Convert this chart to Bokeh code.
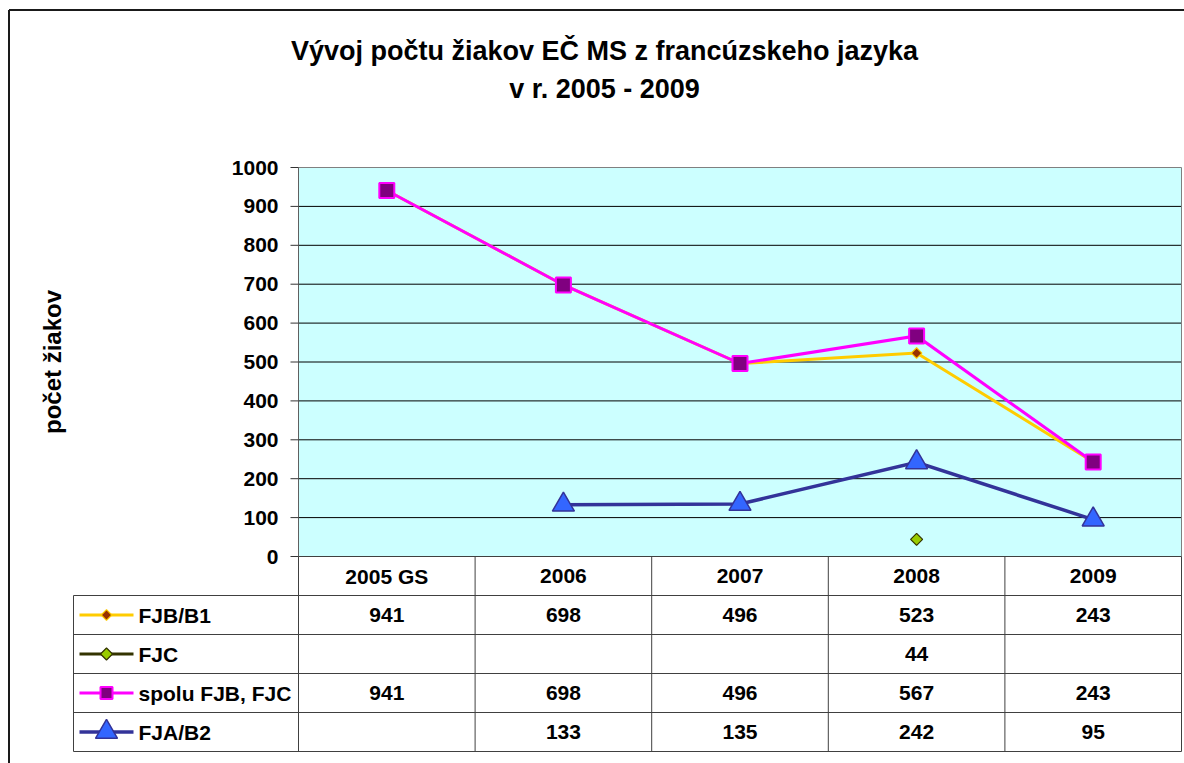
import math
import numpy as np
from bokeh.plotting import figure
from bokeh.models import Range1d
from bokeh.core.properties import value
from bokeh.embed import file_html
from bokeh.resources import INLINE

# ---------------- data ----------------
categories = ["2005 GS", "2006", "2007", "2008", "2009"]
fjb_b1 = [941, 698, 496, 523, 243]
fjc = [None, None, None, 44, None]
spolu = [941, 698, 496, 567, 243]
fja_b2 = [None, 133, 135, 242, 95]
series_names = ["FJB/B1", "FJC", "spolu FJB, FJC", "FJA/B2"]
y_ticks = [0, 100, 200, 300, 400, 500, 600, 700, 800, 900, 1000]
title_lines = ["Vývoj počtu žiakov EČ MS z francúzskeho jazyka", "v r. 2005 - 2009"]
y_label = "počet žiakov"

# ---------------- styles / layout ----------------
FONT = "Liberation Sans"
series_values = [fjb_b1, fjc, spolu, fja_b2]
series_style = [
    dict(line="#FFCC00", lw=3, marker="square", angle=math.pi / 4, size=7.5, fill="#993300", mline="#FFCC00", mlw=1.2, ksize=7.5),
    dict(line="#333300", lw=3, marker="square", angle=math.pi / 4, size=8.5, fill="#99CC00", mline="#333300", mlw=1.2, ksize=8.5),
    dict(line="#FF00FF", lw=3, marker="square", angle=0, size=15, fill="#800080", mline="#FF00FF", mlw=2, ksize=12),
    dict(line="#333399", lw=3.5, marker="triangle", angle=0, size=22, fill="#3366FF", mline="#333399", mlw=1.5, ksize=22),
]

WIDTH, HEIGHT = 1184, 763
PLOT_L, PLOT_R, PLOT_T, PLOT_B = 298, 1181, 167, 556     # plot area in page pixels
TABLE_L, TABLE_B = 73, 751
ncat = len(categories)
COL = (PLOT_R - PLOT_L) / ncat                   # px per category
PXC = (PLOT_B - PLOT_T) / (y_ticks[-1] - y_ticks[0])   # px per count
n_rows = len(series_names) + 1
ROW = (TABLE_B - PLOT_B) / n_rows                # px per table row

p = figure(width=WIDTH, height=HEIGHT,
           x_range=Range1d(0, WIDTH), y_range=Range1d(HEIGHT, 0),
           x_axis_location=None, y_axis_location=None, title=None, min_border=0,
           output_backend="svg", toolbar_location=None)
p.outline_line_color = None
p.grid.visible = False
p.background_fill_color = "white"
p.border_fill_color = "white"

# category scale (index units), count scale and table-row scale
p.extra_x_ranges = {"cat": Range1d(-PLOT_L / COL, (WIDTH - PLOT_L) / COL)}
p.extra_y_ranges = {
    "count": Range1d(y_ticks[0] - (HEIGHT - PLOT_B) / PXC, y_ticks[0] + PLOT_B / PXC),
    "row": Range1d(-(HEIGHT - TABLE_B) / ROW, TABLE_B / ROW),
}
cx = [i + 0.5 for i in range(ncat)]

TXT = dict(text_font=value(FONT), text_font_style="bold", text_color="black")

# outer chart border (left + top)
p.segment([8.5, 8.5], [9.5, 9.5], [8.5, WIDTH], [HEIGHT, 9.5], line_color="#1a1a1a", line_width=2)

# title and axis title
p.text(x=[(8 + WIDTH + 16) / 2] * 2, y=[50, 88], text=title_lines, text_align="center",
       text_baseline="middle", text_font_size="27px", **TXT)
p.text(x=[52], y=[(PLOT_T + PLOT_B) / 2], text=[y_label], angle=math.pi / 2, text_align="center",
       text_baseline="middle", text_font_size="24px", **TXT)

# plot area
p.quad(left=[0], right=[ncat], bottom=[y_ticks[0]], top=[y_ticks[-1]],
       fill_color="#CCFFFF", line_color=None, x_range_name="cat", y_range_name="count")
p.segment([0] * (len(y_ticks) - 2), y_ticks[1:-1], [ncat] * (len(y_ticks) - 2), y_ticks[1:-1],
          line_color="#000000", line_width=1, x_range_name="cat", y_range_name="count")
# border: top and right gray
p.segment([0, ncat], [y_ticks[-1], y_ticks[0]], [ncat, ncat], [y_ticks[-1], y_ticks[-1]],
          line_color="#808080", line_width=1, x_range_name="cat", y_range_name="count")
# y axis line
p.segment([0], [y_ticks[0]], [0], [y_ticks[-1]], line_color="#606060", line_width=1,
          x_range_name="cat", y_range_name="count")
# y ticks and labels
tick_len = 8 / COL
p.segment([-tick_len] * len(y_ticks), y_ticks, [0] * len(y_ticks), y_ticks,
          line_color="#333333", line_width=1, x_range_name="cat", y_range_name="count")
p.text(x=[-20 / COL] * len(y_ticks), y=y_ticks, text=[str(v) for v in y_ticks],
       text_align="right", text_baseline="middle", text_font_size="21px",
       x_range_name="cat", y_range_name="count", **TXT)

# series
for vals, st in zip(series_values, series_style):
    y = np.array(vals, dtype=float)
    if np.sum(~np.isnan(y)) > 1:
        p.line(cx, y, line_color=st["line"], line_width=st["lw"], line_join="miter",
               x_range_name="cat", y_range_name="count")
    p.scatter(cx, y, marker=st["marker"], angle=st["angle"], size=st["size"],
              fill_color=st["fill"], line_color=st["mline"], line_width=st["mlw"],
              x_range_name="cat", y_range_name="count")

# ---------------- data table ----------------
leg_left = (TABLE_L - PLOT_L) / COL
x0s, y0s, x1s, y1s = [0], [n_rows], [ncat], [n_rows]
for r in range(n_rows):
    x0s.append(leg_left); y0s.append(r); x1s.append(ncat); y1s.append(r)
x0s.append(leg_left); y0s.append(0); x1s.append(leg_left); y1s.append(n_rows - 1)
for c in range(ncat + 1):
    x0s.append(c); y0s.append(0); x1s.append(c); y1s.append(n_rows)
p.segment(x0s, y0s, x1s, y1s, line_color="#404040", line_width=1,
          x_range_name="cat", y_range_name="row")

p.text(x=cx, y=[n_rows - 0.5] * ncat, text=categories, text_align="center",
       text_baseline="middle", text_font_size="21px", x_range_name="cat", y_range_name="row", **TXT)

kx0 = (79 - PLOT_L) / COL
kx1 = (133 - PLOT_L) / COL
lx = (138 - PLOT_L) / COL
for r, (name, vals, st) in enumerate(zip(series_names, series_values, series_style)):
    yc = n_rows - 1.5 - r
    xs = [i + 0.5 for i, v in enumerate(vals) if v is not None]
    ts = [str(v) for v in vals if v is not None]
    p.text(x=xs, y=[yc] * len(xs), text=ts, text_align="center", text_baseline="middle",
           text_font_size="21px", x_range_name="cat", y_range_name="row", **TXT)
    p.segment([kx0], [yc], [kx1], [yc], line_color=st["line"], line_width=st["lw"],
              x_range_name="cat", y_range_name="row")
    p.scatter([(kx0 + kx1) / 2], [yc], marker=st["marker"], angle=st["angle"], size=st["ksize"],
              fill_color=st["fill"], line_color=st["mline"], line_width=st["mlw"],
              x_range_name="cat", y_range_name="row")
    p.text(x=[lx], y=[yc], text=[name], text_align="left", text_baseline="middle",
           text_font_size="21px", x_range_name="cat", y_range_name="row", **TXT)

open("out.html", "w").write(file_html(p, INLINE))
